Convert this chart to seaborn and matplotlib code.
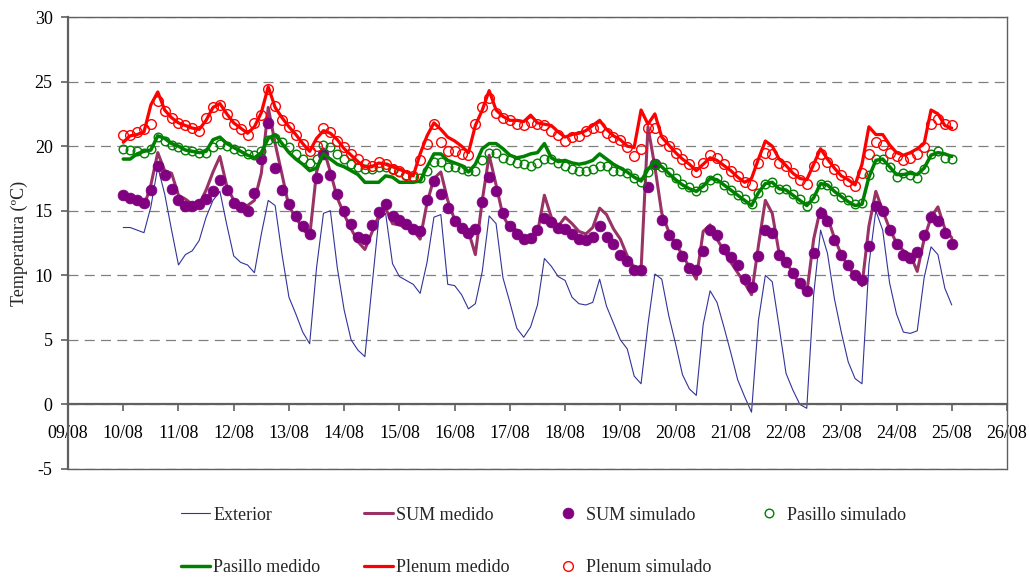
import numpy as np
import pandas as pd
import matplotlib
matplotlib.use("Agg")
import matplotlib.pyplot as plt
import matplotlib.dates as mdates
import seaborn as sns

# 3-hourly samples, 10/08 00:00 to 25/08 00:00
times = pd.date_range("2009-08-10 00:00", "2009-08-25 00:00", freq="3h")

exterior = [
    13.7, 13.7, 13.5, 13.3, 15.3, 18.4, 16.3, 13.5,
    10.8, 11.6, 11.9, 12.7, 14.5, 15.8, 16.5, 13.9,
    11.5, 11.0, 10.8, 10.2, 13.2, 15.8, 15.4, 11.6,
    8.3, 7.0, 5.6, 4.7, 10.6, 14.8, 15.0, 10.6,
    7.3, 5.0, 4.2, 3.7, 9.0, 14.3, 14.8, 10.9,
    9.9, 9.6, 9.3, 8.6, 11.0, 14.5, 14.7, 9.3,
    9.2, 8.5, 7.4, 7.8, 10.3, 14.6, 14.0, 9.8,
    7.9, 5.9, 5.2, 6.0, 7.7, 11.3, 10.7, 9.9,
    9.6, 8.3, 7.8, 7.7, 7.9, 9.7, 7.6, 6.3,
    5.0, 4.3, 2.2, 1.6, 6.2, 10.1, 9.7, 6.9,
    4.7, 2.3, 1.2, 0.7, 6.2, 8.8, 7.9, 6.0,
    4.0, 1.9, 0.6, -0.6, 6.5, 10.0, 9.5, 6.0,
    2.4, 1.1, 0.0, -0.3, 8.5, 13.5, 11.7, 8.2,
    5.6, 3.3, 2.0, 1.6, 10.8, 15.0, 13.5, 9.4,
    7.0, 5.6, 5.5, 5.7, 9.8, 12.2, 11.6, 9.0,
    7.7,
]

sum_medido = [
    16.1, 15.8, 15.6, 15.3, 17.0, 19.5, 18.1, 17.9,
    16.2, 15.9, 15.5, 15.5, 16.6, 18.0, 19.2, 16.9,
    15.8, 15.5, 15.4, 15.8, 17.9, 23.0, 20.2, 17.8,
    15.3, 14.5, 13.6, 13.0, 18.0, 19.8, 18.0, 16.0,
    14.7, 13.6, 12.6, 12.0, 13.3, 14.6, 15.2, 14.0,
    13.9, 13.7, 13.5, 12.8, 15.6, 17.5, 18.0, 15.8,
    14.3, 13.8, 13.4, 11.6, 15.8, 19.3, 17.0, 14.6,
    13.7, 13.5, 13.0, 12.8, 13.3, 16.2, 14.5, 13.8,
    14.5, 14.0, 13.4, 13.2, 13.7, 15.2, 14.7, 13.6,
    12.8, 11.5, 10.6, 10.4, 21.5, 18.4, 14.8, 13.4,
    12.4, 11.6, 10.6, 9.7, 13.4, 13.9, 12.8, 11.9,
    11.0, 10.2, 9.4, 8.5, 12.3, 15.8, 14.8, 11.7,
    11.0, 10.2, 9.2, 8.6, 12.8, 15.2, 14.5, 12.9,
    11.6, 10.7, 9.9, 9.2, 13.8, 16.5, 15.0, 13.6,
    12.5, 11.9, 11.6, 10.3, 12.8, 14.5, 15.3, 13.6,
    12.9,
]

sum_simulado = [
    16.2, 16.0, 15.8, 15.6, 16.6, 18.5, 17.8, 16.7,
    15.8, 15.4, 15.4, 15.5, 15.9, 16.5, 17.4, 16.6,
    15.6, 15.3, 15.0, 16.4, 19.0, 21.8, 18.3, 16.6,
    15.5, 14.6, 13.8, 13.2, 17.5, 19.4, 17.8, 16.3,
    15.0, 14.0, 13.0, 12.8, 13.9, 14.9, 15.5, 14.6,
    14.3, 14.0, 13.6, 13.4, 15.8, 17.3, 16.3, 15.2,
    14.2, 13.7, 13.3, 13.6, 15.7, 17.6, 16.5, 14.8,
    13.8, 13.2, 12.8, 12.9, 13.5, 14.4, 14.1, 13.7,
    13.6, 13.2, 12.8, 12.7, 13.0, 13.8, 13.0, 12.4,
    11.6, 11.1, 10.4, 10.4, 16.8, 18.6, 14.3, 13.1,
    12.4, 11.5, 10.6, 10.4, 11.9, 13.5, 13.1, 12.0,
    11.4, 10.8, 9.7, 9.1, 11.5, 13.5, 13.3, 11.6,
    11.0, 10.2, 9.4, 8.8, 11.7, 14.8, 14.2, 12.7,
    11.6, 10.8, 10.0, 9.6, 12.3, 15.4, 15.0, 13.5,
    12.4, 11.6, 11.3, 11.8, 13.1, 14.5, 14.2, 13.3,
    12.4,
]

pasillo_simulado = [
    19.8, 19.7, 19.6, 19.5, 19.8, 20.7, 20.4, 20.1,
    19.9, 19.7, 19.6, 19.5, 19.5, 19.9, 20.2, 20.0,
    19.8, 19.6, 19.4, 19.3, 19.6, 20.5, 20.6, 20.3,
    19.9, 19.4, 19.0, 18.7, 19.0, 20.1, 19.9, 19.4,
    19.0, 18.6, 18.4, 18.2, 18.2, 18.4, 18.4, 18.2,
    18.0, 17.8, 17.6, 17.5, 18.1, 18.8, 18.8, 18.4,
    18.4, 18.2, 18.1, 18.1, 18.9, 19.5, 19.5, 19.1,
    18.9, 18.7, 18.6, 18.5, 18.7, 19.0, 19.0, 18.7,
    18.5, 18.2, 18.1, 18.1, 18.2, 18.5, 18.5, 18.1,
    18.1, 17.9, 17.5, 17.2, 18.0, 18.6, 18.4, 18.0,
    17.5, 17.1, 16.8, 16.5, 16.8, 17.4, 17.5, 17.0,
    16.6, 16.2, 15.9, 15.5, 16.4, 17.1, 17.2, 16.7,
    16.7, 16.3, 15.9, 15.4, 16.0, 17.1, 17.0, 16.5,
    16.1, 15.8, 15.5, 15.6, 17.8, 19.0, 19.0, 18.4,
    17.6, 17.9, 17.8, 17.5, 18.2, 19.4, 19.6, 19.1,
    19.0,
]

pasillo_medido = [
    19.0, 19.0, 19.4, 19.6, 19.7, 20.8, 20.6, 20.2,
    20.0, 19.7, 19.6, 19.5, 19.6, 20.5, 20.7, 20.2,
    19.9, 19.6, 19.3, 19.1, 19.5, 20.6, 20.9, 20.2,
    19.5, 19.0, 18.6, 18.1, 18.3, 19.4, 19.0, 18.6,
    18.4, 18.1, 17.8, 17.2, 17.2, 17.2, 17.7, 17.6,
    17.2, 17.2, 17.2, 17.3, 18.4, 19.4, 19.4, 18.9,
    18.7, 18.5, 18.0, 18.6, 19.8, 20.2, 20.2, 19.8,
    19.3, 19.1, 19.2, 19.4, 19.5, 20.2, 19.1, 18.8,
    18.9, 18.7, 18.6, 18.7, 18.9, 19.4, 19.0, 18.6,
    18.3, 18.0, 17.6, 17.3, 18.2, 18.8, 18.4, 17.9,
    17.4, 17.0, 16.7, 16.5, 16.9, 17.5, 17.4, 17.0,
    16.6, 16.2, 15.8, 15.4, 16.4, 17.1, 17.2, 16.7,
    16.6, 16.2, 15.8, 15.4, 16.0, 17.1, 17.0, 16.5,
    16.1, 15.7, 15.4, 15.5, 17.6, 18.9, 19.0, 18.4,
    17.8, 17.8, 17.9, 17.8, 18.3, 19.3, 19.5, 19.4,
    19.2,
]

plenum_medido = [
    20.3, 20.8, 20.9, 21.1, 23.2, 24.2, 22.8, 22.2,
    21.8, 21.6, 21.4, 21.3, 22.0, 23.0, 23.3, 22.5,
    21.8, 21.4, 21.0, 21.5, 22.6, 24.6, 23.0, 22.2,
    21.5, 20.9, 20.2, 19.6, 20.6, 21.2, 21.0, 20.5,
    19.8, 19.3, 18.8, 18.4, 18.4, 18.7, 18.6, 18.4,
    18.2, 18.0, 17.7, 19.4, 20.8, 21.8, 21.3, 20.7,
    20.4, 20.0, 19.5, 21.6, 22.8, 24.3, 22.8, 22.3,
    22.0, 22.0, 21.9, 22.4, 21.8, 21.7, 21.6, 21.1,
    20.7, 20.9, 21.0, 21.2, 21.6, 22.0, 21.3, 20.8,
    20.5, 20.0, 19.9, 22.8, 21.7, 22.5, 20.7, 20.1,
    19.5, 19.0, 18.6, 18.1, 18.6, 19.1, 18.9, 18.5,
    18.1, 17.6, 17.2, 17.5, 19.0, 20.4, 20.0, 19.0,
    18.5, 17.9, 17.5, 17.4, 18.6, 19.8, 19.0, 18.3,
    17.7, 17.4, 17.0, 18.6, 21.5, 20.9, 20.9, 20.1,
    19.5, 19.3, 19.5, 19.8, 20.2, 22.8, 22.5, 21.6,
    21.4,
]

plenum_simulado = [
    20.9, 20.9, 21.1, 21.3, 21.7, 23.5, 22.7, 22.2,
    21.8, 21.6, 21.4, 21.2, 22.2, 23.0, 23.2, 22.5,
    21.7, 21.3, 20.9, 21.8, 22.4, 24.4, 23.1, 22.0,
    21.5, 20.9, 20.2, 19.6, 20.0, 21.4, 21.1, 20.4,
    19.9, 19.4, 19.0, 18.6, 18.5, 18.8, 18.6, 18.2,
    18.1, 17.8, 17.7, 18.9, 20.2, 21.7, 20.3, 19.6,
    19.6, 19.4, 19.3, 21.7, 23.0, 23.7, 22.6, 22.2,
    22.0, 21.7, 21.6, 21.9, 21.7, 21.6, 21.2, 20.9,
    20.4, 20.7, 20.8, 21.2, 21.4, 21.5, 21.0, 20.7,
    20.5, 19.9, 19.2, 19.8, 21.4, 21.4, 20.5, 20.0,
    19.5, 19.0, 18.6, 18.0, 18.7, 19.3, 19.1, 18.6,
    18.1, 17.7, 17.2, 17.0, 18.7, 19.5, 19.4, 18.7,
    18.5, 17.9, 17.4, 17.1, 18.5, 19.4, 18.8, 18.2,
    17.8, 17.3, 16.9, 17.9, 19.4, 20.3, 20.1, 19.5,
    19.2, 18.9, 19.1, 19.4, 19.9, 21.7, 22.1, 21.7,
    21.6,
]

sns.set_theme(style="white")
plt.rcParams["font.family"] = ["Liberation Serif", "DejaVu Serif"]
plt.rcParams["axes.unicode_minus"] = False

fig = plt.figure(figsize=(10.29, 5.77), dpi=100)
ax = fig.add_axes([0.0661, 0.1872, 0.9125, 0.7833])

# drawn in the original series order (later ones on top)
sns.lineplot(x=times, y=exterior, ax=ax, color="#333399", linewidth=0.8,
             label="Exterior", legend=False, estimator=None)
sns.lineplot(x=times, y=sum_medido, ax=ax, color="#993366", linewidth=2.2,
             label="SUM medido", legend=False, estimator=None)
sns.lineplot(x=times, y=sum_simulado, ax=ax, color="#800080", linestyle="",
             marker="o", markersize=7.8, markeredgecolor="#800080", markeredgewidth=0.5,
             label="SUM simulado", legend=False, estimator=None)
sns.lineplot(x=times, y=pasillo_simulado, ax=ax, color="#008000", linestyle="",
             marker="o", markersize=6.2, markerfacecolor="none",
             markeredgecolor="#008000", markeredgewidth=1.0,
             label="Pasillo simulado", legend=False, estimator=None)
sns.lineplot(x=times, y=pasillo_medido, ax=ax, color="#008000", linewidth=2.5,
             label="Pasillo medido", legend=False, estimator=None)
sns.lineplot(x=times, y=plenum_medido, ax=ax, color="#FF0000", linewidth=2.3,
             label="Plenum medido", legend=False, estimator=None)
sns.lineplot(x=times, y=plenum_simulado, ax=ax, color="#FF0000", linestyle="",
             marker="o", markersize=7.0, markerfacecolor="none",
             markeredgecolor="#FF0000", markeredgewidth=1.0,
             label="Plenum simulado", legend=False, estimator=None)

ax.set_xlim(pd.Timestamp("2009-08-09"), pd.Timestamp("2009-08-26"))
ax.set_ylim(-5, 30)
ax.set_yticks(range(-5, 31, 5))
ax.xaxis.set_major_locator(mdates.DayLocator())
ax.xaxis.set_major_formatter(mdates.DateFormatter("%d/%m"))
ax.set_xlabel("")
ax.set_ylabel("Temperatura (ºC)", fontsize=13, labelpad=5)

ax.yaxis.grid(True, linestyle=(0, (8, 5)), color="#808080", linewidth=0.9)
ax.xaxis.grid(False)
ax.set_axisbelow(True)

frame_col = "#606060"
for side in ["top", "right", "left", "bottom"]:
    ax.spines[side].set_color(frame_col)
ax.spines["top"].set_linewidth(1.0)
ax.spines["right"].set_linewidth(1.0)
ax.spines["left"].set_linewidth(1.6)
ax.spines["bottom"].set_linewidth(1.6)
ax.spines["bottom"].set_position(("data", 0))
ax.plot([0, 1], [0, 0], transform=ax.transAxes, color=frame_col,
        linewidth=1.0, clip_on=False)

ax.tick_params(axis="x", bottom=True, direction="out", length=5, width=1.2,
               color=frame_col, pad=10, labelsize=13, labelcolor="black")
ax.tick_params(axis="y", left=True, direction="out", length=5, width=1.2,
               color=frame_col, pad=6, labelsize=13, labelcolor="black")

handles, labels = ax.get_legend_handles_labels()
order = [0, 4, 1, 5, 2, 6, 3]
fig.legend([handles[i] for i in order], [labels[i] for i in order],
           ncol=4, loc="center", bbox_to_anchor=(0.528, 0.062), frameon=False,
           fontsize=13, handlelength=1.6, handletextpad=0.2,
           columnspacing=2.4, labelspacing=1.95)

fig.savefig("out.png", dpi=100)
